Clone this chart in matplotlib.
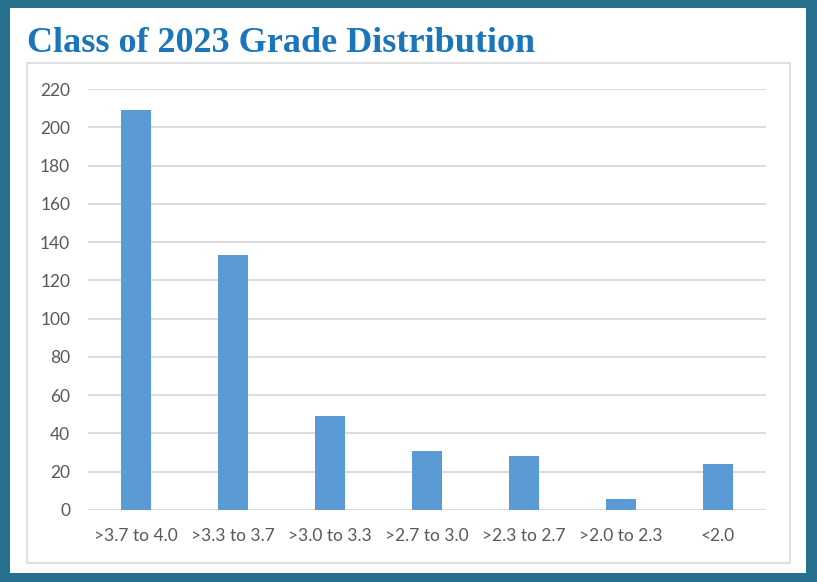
import matplotlib
matplotlib.use("Agg")
import matplotlib.pyplot as plt
from matplotlib.patches import Rectangle

categories = [">3.7 to 4.0", ">3.3 to 3.7", ">3.0 to 3.3", ">2.7 to 3.0",
              ">2.3 to 2.7", ">2.0 to 2.3", "<2.0"]
counts = [209, 133, 49, 31, 28, 6, 24]
yticks = list(range(0, 221, 20))

W, H = 817, 582
fig = plt.figure(figsize=(W / 100, H / 100), dpi=100)
fig.patch.set_facecolor("#27718F")

# white panel inside the dark frame
fig.patches.append(Rectangle((10 / W, (H - 573) / H), (806 - 10) / W, (573 - 8) / H,
                             transform=fig.transFigure, facecolor="white",
                             edgecolor="none", zorder=-2))
# light grey chart box
fig.patches.append(Rectangle((27 / W, (H - 563) / H), (790 - 27) / W, (563 - 63) / H,
                             transform=fig.transFigure, facecolor="none",
                             edgecolor="#D9D9D9", linewidth=1.2, zorder=-1))

fig.text(27 / W, (H - 52) / H, "Class of 2023 Grade Distribution",
         family="Liberation Serif", fontweight="bold", fontsize=26,
         color="#1B75BB", ha="left", va="baseline")

ax = fig.add_axes([87.5 / W, (H - 510) / H, (766 - 87.5) / W, (510 - 89) / H])
ax.set_zorder(2)
ax.set_facecolor("none")
x = range(len(categories))
ax.bar(x, counts, width=0.31, color="#5B9BD5", zorder=3)

ax.set_xlim(-0.5, len(categories) - 0.5)
ax.set_ylim(0, 220)
ax.set_yticks(yticks)
ax.set_xticks(list(x))
ax.set_xticklabels(categories)
ax.grid(axis="y", color="#D9D9D9", linewidth=1.3, zorder=0)
ax.tick_params(length=0, labelsize=12.5, labelcolor="#595959")
ax.tick_params(axis="y", pad=12.5)
ax.tick_params(axis="x", pad=13)
for lab in ax.get_xticklabels() + ax.get_yticklabels():
    lab.set_family("Lato")
for s in ax.spines.values():
    s.set_visible(False)

fig.savefig("out.png", dpi=100, facecolor=fig.get_facecolor())
